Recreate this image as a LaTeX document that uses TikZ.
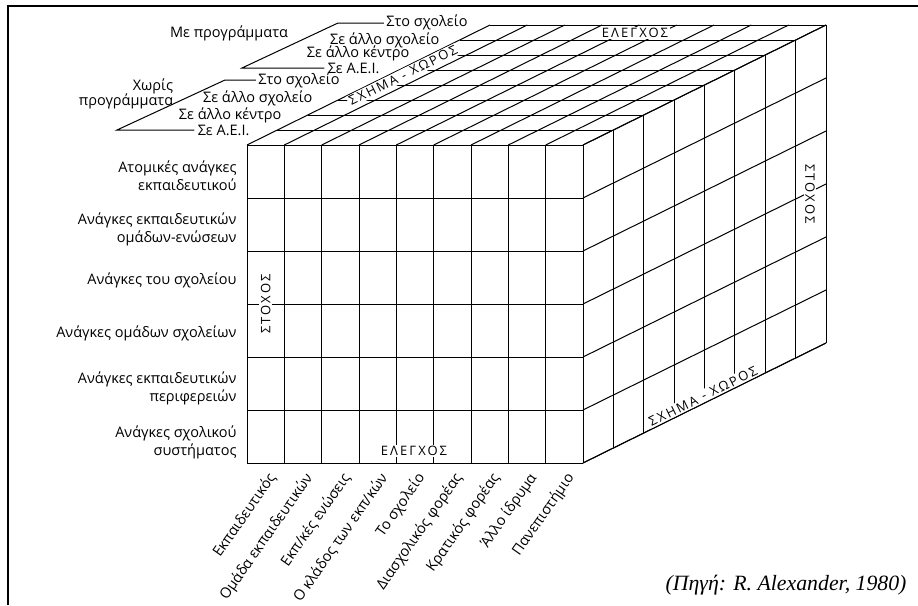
\documentclass[tikz,border=0pt]{standalone}
\usepackage{fontspec}
\setmainfont{Open Sans}
\newfontfamily\capsfont[LetterSpace=16]{Open Sans}
\newfontfamily\srcfont{Liberation Serif}
\begin{document}
\begin{tikzpicture}[x=1pt,y=-1pt,line width=1pt,
  lbl/.style={inner sep=0pt,font=\fontsize{14.5}{18}\selectfont},
  rowlbl/.style={lbl,anchor=east,align=right},
  collbl/.style={lbl,anchor=east,rotate=55},
  caplbl/.style={inner sep=1.5pt,fill=white,font=\capsfont\fontsize{13}{15}\selectfont},
  frame/.style={line width=2.2pt}]
\useasboundingbox (0,0) rectangle (918,605);
% frame
\draw[frame] (8,605) -- (8,6) -- (918,6);
% corners of the cube
\coordinate (FTL) at (247,145);
\coordinate (FTR) at (583,145);
\coordinate (FBR) at (583,463);
% front face
\foreach \i in {0,...,9} \draw (247+37.333*\i,145) -- (247+37.333*\i,463);
\foreach \j in {0,...,6} \draw (247,145+53*\j) -- (583,145+53*\j);
% top face
\foreach \k in {0,...,8} \draw (247+30.375*\k,145-15*\k) -- (583+30.375*\k,145-15*\k);
\foreach \i in {0,...,9} \draw (247+37.333*\i,145) -- (490+37.333*\i,25);
% right face
\foreach \k in {0,...,8} \draw (583+30.375*\k,145-15*\k) -- (583+30.375*\k,463-15*\k);
\foreach \j in {0,...,6} \draw (583,145+53*\j) -- (826,25+53*\j);
% axis labels on the cube
\node[caplbl,rotate=90] (stf) at (265.7,304) {ΣΤΟΧΟΣ};
\node[caplbl,rotate=-90] (str) at (810,194) {ΣΤΟΧΟΣ};
\node[caplbl] (elf) at (414,451) {ΕΛΕΓΧΟΣ};
\node[caplbl] (elt) at (635,33) {ΕΛΕΓΧΟΣ};
\node[caplbl,rotate=26.28,anchor=north] (sxt) at (400,69.4) {ΣΧΗΜΑ - ΧΩΡΟΣ};
\node[caplbl,rotate=26.28,anchor=south] (sxr) at (706,402.3) {ΣΧΗΜΑ - ΧΩΡΟΣ};
\draw (FBR) -- (826,343);
% row labels
\node[rowlbl] (r1) at (237,176) {Ατομικές ανάγκες\\εκπαιδευτικού};
\node[rowlbl] (r2) at (237,229) {Ανάγκες εκπαιδευτικών\\ομάδων-ενώσεων};
\node[rowlbl] (r3) at (237,280) {Ανάγκες του σχολείου};
\node[rowlbl] (r4) at (237,333) {Ανάγκες ομάδων σχολείων};
\node[rowlbl] (r5) at (237,388) {Ανάγκες εκπαιδευτικών\\περιφερειών};
\node[rowlbl] (r6) at (237,442) {Ανάγκες σχολικού\\συστήματος};
% column labels
\node[collbl] (c1) at (272.7,475) {Εκπαιδευτικός};
\node[collbl] (c2) at (310,475) {Ομάδα εκπαιδευτικών};
\node[collbl] (c3) at (347.3,475) {Εκπ/κές ενώσεις};
\node[collbl] (c4) at (384.7,475) {Ο κλάδος των εκπ/κών};
\node[collbl] (c5) at (422,475) {Το σχολείο};
\node[collbl] (c6) at (459.3,475) {Διασχολικός φορέας};
\node[collbl] (c7) at (496.7,475) {Κρατικός φορέας};
\node[collbl] (c8) at (534,475) {Άλλο ίδρυμα};
\node[collbl] (c9) at (571.3,475) {Πανεπιστήμιο};
% depth labels
\node[lbl,anchor=east] (d1) at (250,130) {Σε Α.Ε.Ι.};
\node[lbl,anchor=east] (d2) at (282,115) {Σε άλλο κέντρο};
\node[lbl,anchor=east] (d3) at (313,98) {Σε άλλο σχολείο};
\node[lbl,anchor=east] (d4) at (340,80) {Στο σχολείο};
\node[lbl,anchor=east] (d5) at (380,68) {Σε Α.Ε.Ι.};
\node[lbl,anchor=east] (d6) at (410,53) {Σε άλλο κέντρο};
\node[lbl,anchor=east] (d7) at (440,40) {Σε άλλο σχολείο};
\node[lbl,anchor=east] (d8) at (468,22) {Στο σχολείο};
% group labels and brackets
\node[lbl] (g1) at (229,33) {Με προγράμματα};
\node[lbl] (g2a) at (153,86) {Χωρίς};
\node[lbl] (g2b) at (126,101) {προγράμματα};
\coordinate (b1a) at (117,130);
\coordinate (b1b) at (225,80);
\coordinate (b2a) at (242,68);
\coordinate (b2b) at (338,23);
\draw (d1.west |- b1a) ++(-3,0) -- (b1a) -- (b1b) -- ([xshift=-2pt]d4.west |- b1b);
\draw (d5.west |- b2a) ++(-3,0) -- (b2a) -- (b2b) -- ([xshift=-2pt]d8.west |- b2b);
% source
\node[inner sep=0pt,anchor=east,font=\srcfont\itshape\fontsize{21.8}{26}\selectfont] (src) at (907,585) {(Πηγή: R. Alexander, 1980)};
\end{tikzpicture}
\end{document}
